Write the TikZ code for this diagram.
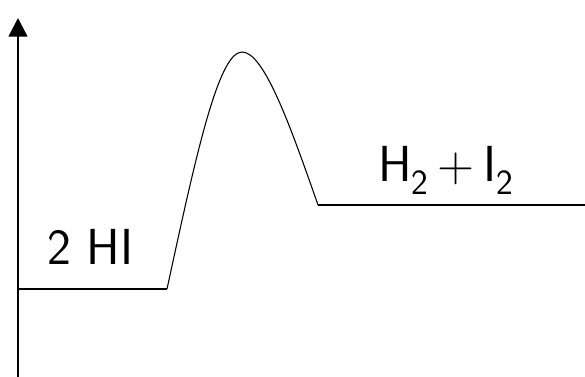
\documentclass[tikz,border=0pt]{standalone}
\usetikzlibrary{arrows.meta}
\begin{document}
\begin{tikzpicture}[x=0.75pt,y=-0.75pt]
\useasboundingbox (0,0) rectangle (585,377);
\draw[line width=1.8pt,-{Triangle[width=14pt,length=14pt]}] (18,377) -- (18,18);
\draw[line width=0.9pt] (18,289) -- (167,289);
\draw[line width=0.8pt] (167,289) .. controls (195,160) and (218,52) .. (242,52)
  .. controls (264,52) and (290,125) .. (318,205);
\draw[line width=0.9pt] (318,205) -- (585,205);
\node[anchor=base west,inner sep=0pt,font=\fontsize{38}{42}\sffamily] at (47,265) {2 HI};
\node[anchor=base west,inner sep=0pt,font=\fontsize{38}{42}\sffamily] at (378,182)
  {H\textsubscript{2}\,+\,I\textsubscript{2}};
\end{tikzpicture}
\end{document}
